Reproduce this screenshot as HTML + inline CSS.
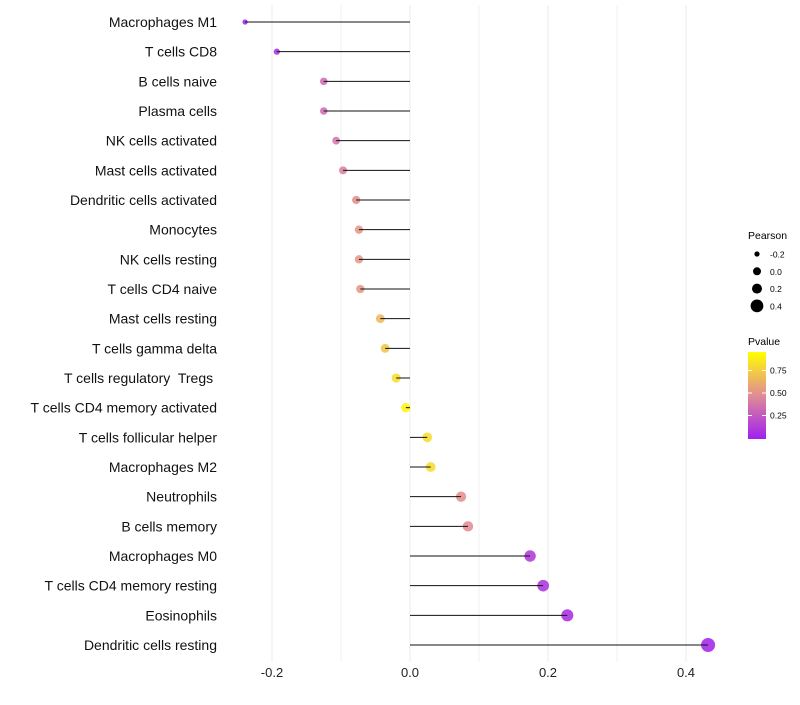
<!DOCTYPE html>
<html><head><meta charset="utf-8"><style>
body{margin:0;background:#fff;font-family:"Liberation Sans",sans-serif}
text{white-space:pre}
</style></head><body>
<svg id="chart" width="800" height="700" xmlns="http://www.w3.org/2000/svg">
<defs><linearGradient id="pg" x1="0" y1="1" x2="0" y2="0">
<stop offset="0" stop-color="#A020F0"/><stop offset="0.5" stop-color="#E08C96"/><stop offset="1" stop-color="#FFFF00"/></linearGradient></defs>
<g id="grid"></g><g id="dots"></g><g id="marks"></g><g id="labels"></g>
<g font-size="10">
<text x="748" y="239" font-size="10.5">Pearson</text>
<g id="sizeLegend"></g>
<text x="748" y="345" font-size="10.5">Pvalue</text>
<rect x="748" y="352" width="18" height="87" fill="url(#pg)"/>
<g id="colorLegend"></g>
</g>
</svg>
<script>
const categories=["Macrophages M1","T cells CD8","B cells naive","Plasma cells","NK cells activated","Mast cells activated","Dendritic cells activated","Monocytes","NK cells resting","T cells CD4 naive","Mast cells resting","T cells gamma delta","T cells regulatory  Tregs ","T cells CD4 memory activated","T cells follicular helper","Macrophages M2","Neutrophils","B cells memory","Macrophages M0","T cells CD4 memory resting","Eosinophils","Dendritic cells resting"];
const pearson=[-0.239,-0.193,-0.125,-0.125,-0.107,-0.097,-0.078,-0.074,-0.074,-0.072,-0.043,-0.036,-0.020,-0.006,0.025,0.030,0.074,0.084,0.174,0.193,0.228,0.432];
const pvalue=[0.03,0.08,0.35,0.35,0.40,0.45,0.52,0.55,0.55,0.55,0.70,0.75,0.85,0.96,0.85,0.85,0.52,0.50,0.12,0.10,0.07,0.03];
const xTicks=[-0.2,0.0,0.2,0.4];
const xTickLabels=["-0.2","0.0","0.2","0.4"];
const sizeBreaks=[-0.2,0.0,0.2,0.4];
const colorBreaks=[0.25,0.5,0.75];
const NS="http://www.w3.org/2000/svg";
const x=v=>410+v*690;
const y=i=>22+i*(623/21);
const r=v=>Math.sqrt(Math.max(2.8,22+63*v));
const cy=p=>438-p*90;
function lerp(a,b,t){return a.map((c,i)=>Math.round(c+(b[i]-c)*t));}
function col(p){const A=[160,32,240],M=[226,140,150],B=[255,255,0];
 const c=p<0.5?lerp(A,M,p/0.5):lerp(M,B,(p-0.5)/0.5);return `rgb(${c})`;}
function mk(tag,at,parent){const e=document.createElementNS(NS,tag);for(const k in at)e.setAttribute(k,at[k]);document.getElementById(parent).appendChild(e);return e;}
[-0.3,-0.1,0.1,0.3,0.5].forEach(v=>{if(x(v)>230&&x(v)<730){const l=mk('line',{x1:x(v),x2:x(v),y1:5,y2:662,stroke:'#f2f2f2','stroke-width':1},'grid');

}});
xTicks.forEach((v,i)=>{const l=mk('line',{x1:x(v),x2:x(v),y1:5,y2:662,stroke:'#ebebeb','stroke-width':1},'grid');


const t=mk('text',{x:x(v),y:677,'text-anchor':'middle','font-size':13,fill:'#222'},'labels');t.textContent=xTickLabels[i];

});
categories.forEach((c,i)=>{
 const d=mk('circle',{cx:x(pearson[i]),cy:y(i),r:r(pearson[i]),fill:col(pvalue[i]),'fill-opacity':0.88},'dots');
 
 
 const l=mk('line',{x1:x(0),x2:x(pearson[i]),y1:y(i),y2:y(i),stroke:'#111','stroke-width':1},'marks');
 
 
 const t=mk('text',{x:217,y:y(i)+5,'text-anchor':'end','font-size':14,fill:'#111'},'labels');t.textContent=c;
 
 
});
sizeBreaks.forEach((v,i)=>{const yy=254+i*17.3;
 const d=mk('circle',{cx:757,cy:yy,r:[2.6,4,5,6.4][i]},'sizeLegend');
 
 
 const t=mk('text',{x:770,y:yy+3.5,'font-size':8.5},'sizeLegend');t.textContent=v.toFixed(1);
 
 });
colorBreaks.forEach(p=>{const yy=cy(p);
 mk('line',{x1:748,x2:752,y1:yy,y2:yy,stroke:'#fff'},'colorLegend');
 mk('line',{x1:762,x2:766,y1:yy,y2:yy,stroke:'#fff'},'colorLegend');
 const t=mk('text',{x:770,y:yy+3,'font-size':8.5},'colorLegend');t.textContent=p.toFixed(2);
 
 });
</script>
</body></html>
